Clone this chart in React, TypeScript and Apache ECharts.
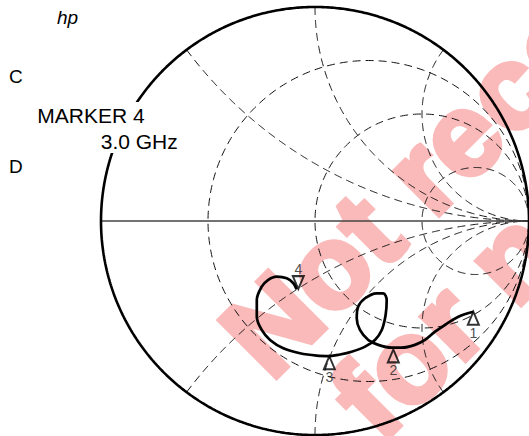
import React, { useEffect, useRef } from "react";
import * as echarts from "echarts";

// Smith chart grid values
const R_CIRCLES = [1 / 3, 1, 3];
const X_ARCS = [0.5, 1, 2, -0.5, -1, -2];

// Measured trace (reflection coefficient, real / imaginary), marker 1 -> marker 4
const TRACE_RE = [
  0.740, 0.670, 0.607, 0.561, 0.514, 0.467, 0.405, 0.358, 0.296, 0.249, 0.210, 0.195,
  0.202, 0.234, 0.288, 0.319, 0.335, 0.330, 0.312, 0.280, 0.234, 0.171, 0.117, 0.070,
  0.008, -0.070, -0.148, -0.210, -0.249, -0.272, -0.272, -0.249, -0.220, -0.179, -0.132,
  -0.101, -0.086,
];
const TRACE_IM = [
  -0.424, -0.447, -0.486, -0.517, -0.556, -0.579, -0.592, -0.592, -0.579, -0.556, -0.509,
  -0.455, -0.400, -0.361, -0.338, -0.338, -0.369, -0.439, -0.509, -0.556, -0.587, -0.611,
  -0.624, -0.631, -0.629, -0.618, -0.595, -0.556, -0.509, -0.447, -0.369, -0.307, -0.276,
  -0.260, -0.268, -0.291, -0.319,
];

// Markers
const MARKER_NAMES = ["1", "2", "3", "4"];
const MARKER_RE = [0.740, 0.366, 0.067, -0.078];
const MARKER_IM = [-0.424, -0.600, -0.632, -0.318];
const MARKER_POINTS_DOWN = [false, false, false, true];

// Texts
const SIDE_LABELS = ["C", "D"];
const MARKER_TEXT = ["MARKER 4", "3.0 GHz"];
const WATERMARK_LINES = ["Not recommended", "for new designs"];

const FONT = '"Liberation Sans", Arial, Helvetica, sans-serif';

function resistanceCircle(r: number): number[][] {
  const c = r / (r + 1);
  const rho = 1 / (r + 1);
  const pts: number[][] = [];
  const n = 360;
  for (let i = 0; i <= n; i++) {
    const a = (i / n) * Math.PI * 2;
    pts.push([c + rho * Math.cos(a), rho * Math.sin(a)]);
  }
  return pts;
}

function reactanceArc(x: number): number[][] {
  const pts: number[][] = [];
  const n = 400;
  for (let i = 0; i < n; i++) {
    const t = (i / n) * (Math.PI / 2) * 0.999;
    const r = Math.tan(t);
    const d = (r + 1) * (r + 1) + x * x;
    pts.push([(r * r - 1 + x * x) / d, (2 * x) / d]);
  }
  pts.push([1, 0]);
  return pts;
}

function unitCircle(): number[][] {
  const pts: number[][] = [];
  const n = 720;
  for (let i = 0; i <= n; i++) {
    const a = (i / n) * Math.PI * 2;
    pts.push([Math.cos(a), Math.sin(a)]);
  }
  return pts;
}

export default function App() {
  const ref = useRef<HTMLDivElement>(null);

  useEffect(() => {
    if (!ref.current) return;
    const chart = echarts.init(ref.current, undefined, { renderer: "svg" });

    const dashStyle = { color: "#111", width: 1, type: [8, 5] as any };
    const gridSeries: any[] = [];
    R_CIRCLES.forEach((r) => {
      gridSeries.push({
        type: "line",
        data: resistanceCircle(r),
        showSymbol: false,
        symbol: "none",
        clip: false,
        silent: true,
        lineStyle: dashStyle,
        z: 2,
      });
    });
    X_ARCS.forEach((x) => {
      gridSeries.push({
        type: "line",
        data: reactanceArc(x),
        showSymbol: false,
        symbol: "none",
        clip: false,
        silent: true,
        lineStyle: dashStyle,
        z: 2,
      });
    });

    const trace = TRACE_RE.map((u, i) => [u, TRACE_IM[i]]);

    const markerData = MARKER_RE.map((u, i) => ({
      value: [u, MARKER_IM[i]],
      symbol: MARKER_POINTS_DOWN[i]
        ? "path://M0,0 L11,0 L5.5,13 Z"
        : "path://M5.5,0 L11,13 L0,13 Z",
      symbolOffset: MARKER_POINTS_DOWN[i] ? [0, -6.5] : [0, 6.5],
    }));

    const labelData = MARKER_RE.map((u, i) => ({
      value: [u, MARKER_IM[i]],
      name: MARKER_NAMES[i],
      label: { offset: MARKER_POINTS_DOWN[i] ? [0, -20] : [0, 21] },
    }));

    const wmFont = `bold 118px ${FONT}`;
    const wmStyle = {
      font: wmFont,
      fill: "#fbbaba",
      stroke: "#fbbaba",
      lineWidth: 5,
      lineJoin: "round",
      textAlign: "left",
      textVerticalAlign: "middle",
      align: "left",
      verticalAlign: "middle",
    };

    chart.setOption({
      animation: false,
      grid: { left: 101, top: 7, width: 428, height: 428 },
      xAxis: { type: "value", min: -1, max: 1, show: false },
      yAxis: { type: "value", min: -1, max: 1, show: false },
      series: [
        ...gridSeries,
        {
          type: "line",
          data: [
            [-1, 0],
            [1, 0],
          ],
          showSymbol: false,
          symbol: "none",
          clip: false,
          silent: true,
          lineStyle: { color: "#444", width: 1.5 },
          z: 3,
        },
        {
          type: "line",
          data: unitCircle(),
          showSymbol: false,
          symbol: "none",
          clip: false,
          silent: true,
          lineStyle: { color: "#000", width: 2.6 },
          z: 3,
        },
        {
          type: "line",
          data: trace,
          showSymbol: false,
          symbol: "none",
          smooth: 0.35,
          clip: false,
          silent: true,
          lineStyle: { color: "#000", width: 2.7 },
          z: 4,
        },
        {
          type: "scatter",
          data: markerData,
          symbolSize: [11, 13],
          clip: false,
          silent: true,
          itemStyle: { color: "rgba(255,255,255,0)", borderColor: "#000", borderWidth: 2 },
          z: 5,
        },
        {
          type: "scatter",
          data: labelData,
          symbolSize: 1,
          clip: false,
          silent: true,
          itemStyle: { color: "rgba(0,0,0,0)" },
          label: {
            show: true,
            position: "inside",
            formatter: (p: any) => p.name,
            fontSize: 14,
            fontFamily: FONT,
            color: "#222",
          },
          z: 5,
        },
      ],
      graphic: [
        {
          type: "text",
          x: 242,
          y: 354,
          rotation: Math.PI / 4,
          z: 0,
          silent: true,
          style: { ...wmStyle, text: WATERMARK_LINES[0] },
        },
        {
          type: "text",
          x: 352,
          y: 416,
          rotation: Math.PI / 4,
          z: 0,
          silent: true,
          style: { ...wmStyle, text: WATERMARK_LINES[1] },
        },
        {
          type: "rect",
          z: 50,
          silent: true,
          shape: { x: 35, y: 102, width: 113, height: 26 },
          style: { fill: "#fff" },
        },
        {
          type: "rect",
          z: 50,
          silent: true,
          shape: { x: 98, y: 128, width: 83, height: 25 },
          style: { fill: "#fff" },
        },
        {
          type: "text",
          x: 57,
          y: 17.4,
          z: 60,
          silent: true,
          style: {
            text: "hp",
            font: `italic 19px ${FONT}`,
            fill: "#000",
            textAlign: "left",
            textVerticalAlign: "middle",
            align: "left",
            verticalAlign: "middle",
          },
        },
        {
          type: "text",
          x: 9,
          y: 76.1,
          z: 60,
          silent: true,
          style: {
            text: SIDE_LABELS[0],
            font: `19px ${FONT}`,
            fill: "#000",
            textAlign: "left",
            textVerticalAlign: "middle",
            align: "left",
            verticalAlign: "middle",
          },
        },
        {
          type: "text",
          x: 9,
          y: 166.7,
          z: 60,
          silent: true,
          style: {
            text: SIDE_LABELS[1],
            font: `19px ${FONT}`,
            fill: "#000",
            textAlign: "left",
            textVerticalAlign: "middle",
            align: "left",
            verticalAlign: "middle",
          },
        },
        {
          type: "text",
          x: 37.3,
          y: 115,
          z: 60,
          silent: true,
          style: {
            text: MARKER_TEXT[0],
            font: `21px ${FONT}`,
            fill: "#000",
            textAlign: "left",
            textVerticalAlign: "middle",
            align: "left",
            verticalAlign: "middle",
          },
        },
        {
          type: "text",
          x: 100.7,
          y: 141,
          z: 60,
          silent: true,
          style: {
            text: MARKER_TEXT[1],
            font: `21px ${FONT}`,
            fill: "#000",
            textAlign: "left",
            textVerticalAlign: "middle",
            align: "left",
            verticalAlign: "middle",
          },
        },
      ],
    });

    return () => {
      chart.dispose();
    };
  }, []);

  return (
    <div
      ref={ref}
      style={{ position: "absolute", left: 0, top: 0, width: 529, height: 436, background: "#fff" }}
    />
  );
}
